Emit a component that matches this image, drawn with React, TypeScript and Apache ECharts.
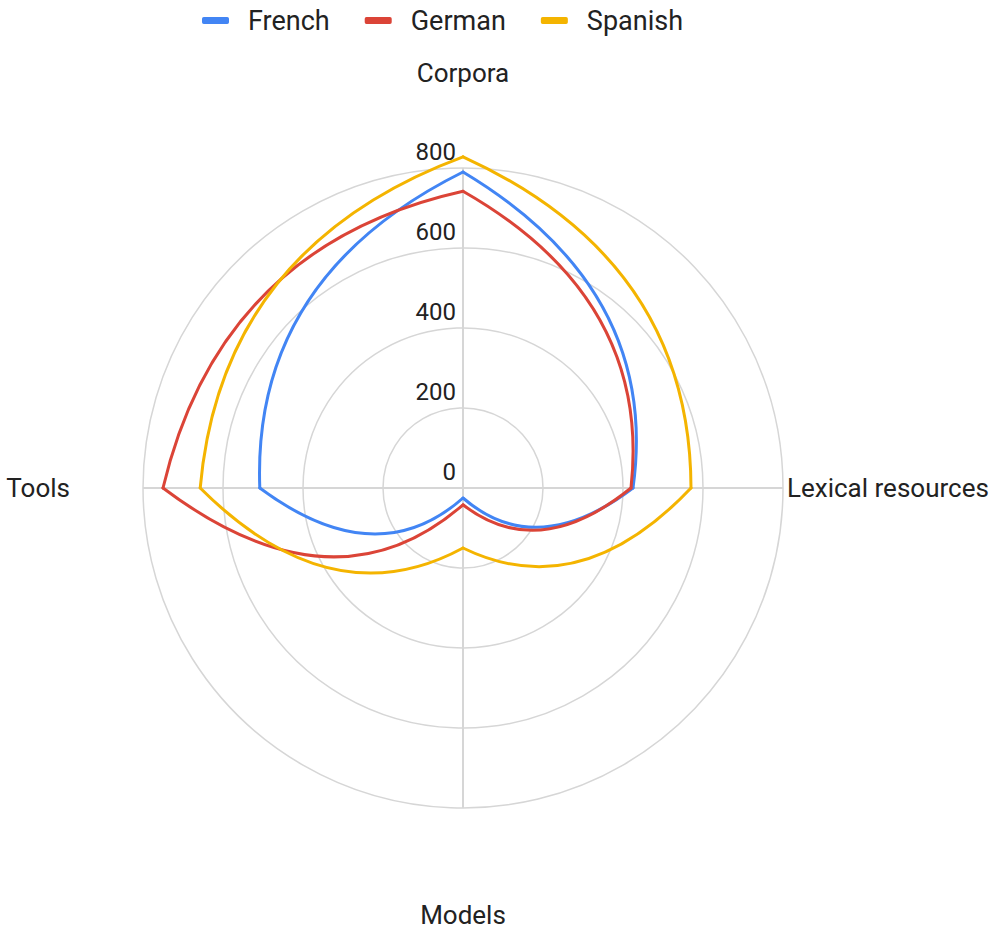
import React, { useEffect, useRef } from 'react';
import * as echarts from 'echarts';

// ---- Data ----
const categories = ['Corpora', 'Lexical resources', 'Models', 'Tools'];
const seriesNames = ['French', 'German', 'Spanish'];
const frenchValues = [790, 425, 25, 508];
const germanValues = [742, 420, 42, 750];
const spanishValues = [828, 570, 150, 657];
const radiusTicks = [0, 200, 400, 600, 800];

// ---- Styles ----
const seriesColors = ['#4285F4', '#DB4437', '#F4B400'];
const CURVE_BULGE = 1.15;
const FONT = 'Roboto, "Noto Sans", sans-serif';

function makeSeries(name: string, values: number[], color: string) {
  const n = values.length;
  return {
    type: 'custom',
    name,
    coordinateSystem: 'polar',
    data: values.map((v, i) => [v, i]),
    itemStyle: { color },
    z: 3,
    silent: true,
    renderItem: (params: any, api: any) => {
      const i = params.dataIndex;
      const r1 = api.value(0);
      const r2 = values[(i + 1) % n];
      const p1 = api.coord([r1, i]);
      const p2 = api.coord([r2, i + 1]);
      const q = api.coord([((r1 + r2) / 2) * CURVE_BULGE, i + 0.5]);
      return {
        type: 'bezierCurve',
        shape: { x1: p1[0], y1: p1[1], x2: p2[0], y2: p2[1], cpx1: q[0], cpy1: q[1] },
        style: { stroke: color, lineWidth: 3, fill: null, lineCap: 'round' },
        silent: true,
      };
    },
  };
}

export default function App() {
  const ref = useRef<HTMLDivElement>(null);
  useEffect(() => {
    document.body.style.margin = '0';
    if (!ref.current) return;
    const chart = echarts.init(ref.current, undefined, { renderer: 'svg' });
    const valueSets = [frenchValues, germanValues, spanishValues];
    const labelBase = { fontSize: 26, color: '#222', fontFamily: FONT };
    chart.setOption({
      animation: false,
      color: seriesColors,
      legend: {
        data: seriesNames,
        left: 197,
        top: 2,
        icon: 'roundRect',
        itemWidth: 27,
        itemHeight: 7,
        itemGap: 35,
        selectedMode: false,
        textStyle: { fontSize: 27, color: '#222', fontFamily: FONT, padding: [0, 0, 0, 14] },
      },
      polar: { center: [463, 488], radius: 320 },
      angleAxis: {
        type: 'value',
        min: 0,
        max: categories.length,
        interval: 1,
        startAngle: 90,
        clockwise: true,
        axisLine: { show: false },
        axisTick: { show: false },
        axisLabel: {
          formatter: (v: number) => (categories[v] ? `{a${v}|${categories[v]}}` : ''),
          margin: 4,
          ...labelBase,
          rich: {
            a0: { ...labelBase, padding: [0, 0, 78, 0] },
            a1: { ...labelBase },
            a2: { ...labelBase, padding: [90, 0, 0, 0] },
            a3: { ...labelBase, padding: [0, 69, 0, 0] },
          },
        },
        splitLine: { show: true, lineStyle: { color: '#d6d6d6', width: 2 } },
      },
      radiusAxis: {
        type: 'value',
        min: radiusTicks[0],
        max: radiusTicks[radiusTicks.length - 1],
        interval: radiusTicks[1] - radiusTicks[0],
        axisLine: { show: false },
        axisTick: { show: false },
        axisLabel: {
          margin: 7,
          align: 'right',
          verticalAlign: 'bottom',
          padding: [0, 0, 4, 0],
          fontSize: 24,
          color: '#222',
          fontFamily: FONT,
        },
        splitLine: { show: true, lineStyle: { color: '#d6d6d6', width: 1.5 } },
      },
      series: seriesNames.map((name, k) => makeSeries(name, valueSets[k], seriesColors[k])),
    });
    return () => chart.dispose();
  }, []);
  return <div ref={ref} style={{ width: 1004, height: 933 }} />;
}
